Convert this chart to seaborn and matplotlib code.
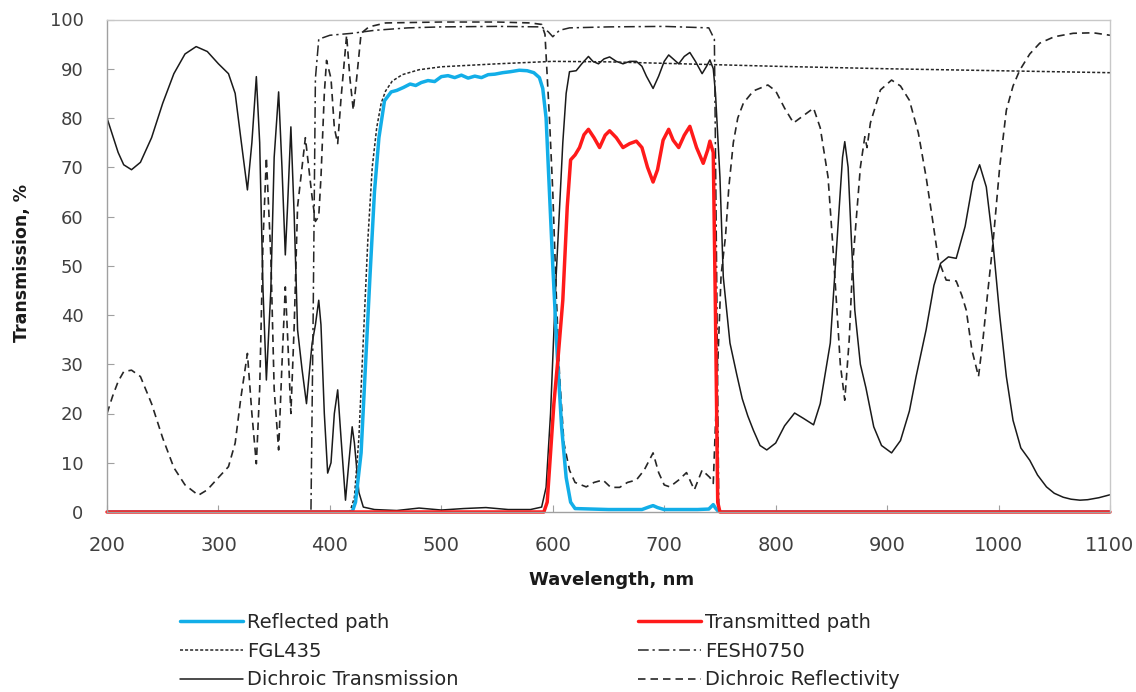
import matplotlib
matplotlib.use("Agg")
import matplotlib.pyplot as plt
import seaborn as sns

# Reflected path (blue)
ref_nm = [200, 420, 423, 428, 432, 436, 440, 444, 449, 455,
          460, 466, 472, 477, 482, 488, 494, 500, 506, 512,
          518, 524, 530, 536, 542, 548, 555, 562, 570, 577,
          583, 588, 591, 594, 597, 600, 604, 608, 612, 616,
          620, 650, 680, 686, 690, 694, 700, 730, 740, 744,
          746, 749, 1100]
ref_pct = [0, 0, 2, 12, 30, 48, 65, 76, 83.5, 85.3,
           85.6, 86.2, 86.9, 86.6, 87.2, 87.6, 87.4, 88.4, 88.6, 88.2,
           88.7, 88.1, 88.5, 88.2, 88.8, 88.9, 89.2, 89.4, 89.7, 89.6,
           89.2, 88.2, 86, 80, 65, 50, 32, 17, 7, 2,
           0.7, 0.5, 0.5, 1.0, 1.3, 0.9, 0.5, 0.5, 0.6, 1.5,
           0.8, 0, 0]

# Transmitted path (red)
trn_nm = [200, 592, 595, 598, 601, 605, 609, 613, 616, 620,
          624, 628, 632, 637, 642, 647, 651, 657, 663, 669,
          675, 680, 685, 690, 694, 699, 704, 708, 713, 718,
          723, 729, 735, 739, 741, 744, 746, 748, 750, 1100]
trn_pct = [0, 0, 2, 12, 22, 32, 43, 62, 71.5, 72.5,
           74, 76.6, 77.7, 76, 74, 76.5, 77.4, 76, 74, 74.8,
           75.3, 74, 70, 67, 69.5, 75.5, 77.7, 75.5, 74, 76.5,
           78.3, 74, 70.8, 73.5, 75.3, 73, 40, 2, 0, 0]

# FGL435 long-pass filter
fgl_nm = [200, 418, 422, 426, 430, 434, 438, 442, 446, 450,
          456, 465, 480, 500, 550, 600, 650, 700, 800, 900,
          1000, 1100]
fgl_pct = [0, 0, 3, 15, 35, 55, 70, 78, 83, 85.5,
           87.5, 88.8, 89.8, 90.4, 91.0, 91.5, 91.4, 91.1, 90.5, 90.0,
           89.6, 89.2]

# FESH0750 short-pass filter
fesh_nm = [200, 383, 385, 387, 390, 400, 420, 440, 470, 500,
           550, 590, 596, 600, 606, 615, 650, 700, 740, 745,
           747, 749, 1100]
fesh_pct = [0, 0, 40, 88, 96, 96.8, 97.2, 97.8, 98.3, 98.5,
            98.6, 98.5, 97.5, 96.5, 97.8, 98.3, 98.5, 98.6, 98.3, 96,
            50, 0, 0]

# Dichroic transmission
dt_nm = [200, 205, 210, 215, 222, 230, 240, 250, 260, 270,
         280, 290, 300, 309, 315, 320, 326, 330, 334, 337,
         340, 343, 347, 350, 354, 357, 360, 362, 365, 368,
         371, 375, 379, 381, 384, 387, 390, 392, 395, 398,
         401, 404, 407, 410, 414, 417, 420, 422, 426, 430,
         440, 460, 480, 500, 520, 540, 560, 580, 590, 594,
         598, 603, 609, 612, 615, 621, 626, 632, 636, 641,
         646, 651, 657, 663, 669, 675, 680, 684, 690, 695,
         700, 704, 708, 713, 718, 723, 728, 734, 738, 741,
         744, 746, 750, 753, 759, 765, 770, 775, 780, 786,
         792, 800, 808, 817, 825, 834, 840, 849, 855, 860,
         862, 865, 868, 871, 876, 881, 888, 895, 904, 912,
         920, 926, 935, 942, 948, 955, 962, 970, 977, 983,
         989, 995, 1001, 1007, 1013, 1020, 1028, 1035, 1043, 1050,
         1058, 1065, 1073, 1080, 1090, 1100]
dt_pct = [80, 76.5, 73, 70.5, 69.5, 71, 76, 83, 89, 93,
          94.5, 93.5, 91, 89, 85, 76, 65.4, 75, 88.4, 75,
          45, 26.8, 45, 72, 85.3, 70, 52.2, 62, 78.2, 60,
          37, 29, 22, 27, 34.2, 38, 43, 38, 20, 7.9,
          10, 20, 24.8, 15, 2.4, 10, 17.3, 14, 4, 1,
          0.5, 0.3, 0.8, 0.4, 0.7, 0.9, 0.5, 0.5, 1, 5,
          20, 47.8, 75, 85, 89.4, 89.6, 91, 92.5, 91.5, 91,
          92, 92.4, 91.5, 91, 91.5, 91.5, 90.5, 88.5, 86, 88.5,
          91.5, 92.8, 92, 91, 92.5, 93.3, 91.5, 89, 90.5, 91.8,
          90, 85, 68, 47.7, 34.3, 28, 23, 19.5, 16.6, 13.5,
          12.6, 14, 17.5, 20.1, 19, 17.7, 22, 34.3, 55, 72,
          75.2, 70, 55, 41, 30, 25.2, 17.3, 13.5, 12, 14.5,
          20.5, 27.5, 37, 46, 50.5, 51.8, 51.5, 58, 67, 70.5,
          66, 54.6, 40, 27.5, 18.6, 13, 10.5, 7.5, 5.1, 3.8,
          3, 2.6, 2.4, 2.5, 2.9, 3.5]

# Dichroic reflectivity
dr_nm = [200, 205, 210, 215, 222, 230, 240, 250, 260, 270,
         282, 290, 300, 309, 315, 320, 326, 330, 334, 337,
         340, 343, 347, 350, 354, 357, 360, 362, 365, 368,
         371, 375, 378, 381, 384, 387, 390, 392, 395, 397,
         401, 404, 407, 410, 415, 418, 421, 424, 428, 435,
         450, 500, 550, 580, 590, 593, 597, 600, 603, 606,
         610, 615, 620, 630, 637, 645, 652, 660, 667, 675,
         682, 690, 695, 700, 705, 713, 720, 727, 734, 741,
         744, 748, 751, 755, 758, 762, 766, 771, 780, 793,
         800, 808, 816, 825, 834, 840, 847, 851, 855, 858,
         862, 866, 869, 873, 876, 880, 882, 885, 894, 904,
         912, 920, 928, 935, 941, 946, 953, 962, 967, 971,
         976, 982, 986, 990, 995, 1001, 1007, 1013, 1019, 1028,
         1037, 1050, 1067, 1085, 1100]
dr_pct = [20, 23.5, 26.5, 28.5, 28.8, 27.5, 22, 15, 9, 5.5,
          3.4, 4.5, 7, 9.2, 14, 23, 32.2, 20, 9.8, 25,
          55, 72, 52, 25, 12.6, 30, 45.7, 36, 20, 38,
          62, 70, 76, 70, 64, 59, 60, 68, 85, 91.7,
          88, 78, 74.8, 84, 96.8, 88, 81.6, 88, 97.2, 98.5,
          99.3, 99.5, 99.5, 99.3, 99, 97, 80, 65, 45, 28,
          14, 8.5, 6, 5.1, 6, 6.5, 5, 5, 6, 6.5,
          8.5, 12, 8, 5.5, 5.1, 6.5, 8, 4.5, 8.5, 7,
          5.8, 30, 48, 56, 66, 75, 80, 83, 85.5, 86.7,
          85.5, 82, 79, 80.5, 82, 78, 68, 55, 41, 30,
          22.7, 35, 50, 61.3, 70, 76.2, 74, 79, 85.7, 87.7,
          86.5, 83.6, 77, 68, 59, 51.2, 47.1, 46.9, 44, 41,
          33, 27.5, 35, 44, 54.6, 70, 81.6, 86.5, 89.7, 93,
          95.2, 96.5, 97.2, 97.3, 96.8]

x_ticks = list(range(200, 1101, 100))
y_ticks = list(range(0, 101, 10))

sns.set_theme(style="white")
plt.rcParams['font.family'] = ['DejaVu Sans']

W, H = 1136, 692
fig = plt.figure(figsize=(W / 100, H / 100), dpi=100)
fig.patch.set_facecolor('white')

# plot area in pixels: x 107..1110, y 19.5..512
left, right, top, bottom = 107, 1110, 19.5, 512
ax = fig.add_axes([left / W, 1 - bottom / H, (right - left) / W, (bottom - top) / H])

def draw(x, y, color, lw, dashes=None, clip=True):
    sns.lineplot(x=x, y=y, ax=ax, color=color, linewidth=lw,
                 sort=False, estimator=None)
    line = ax.lines[-1]
    if dashes is not None:
        line.set_dashes(dashes)
    line.set_clip_on(clip)
    return line

ln_dr = draw(dr_nm, dr_pct, '#262626', 1.2, dashes=(4.5, 3))
ln_dt = draw(dt_nm, dt_pct, '#1a1a1a', 1.1)
ln_fesh = draw(fesh_nm, fesh_pct, '#262626', 1.1, dashes=(7, 2.5, 1.5, 2.5))
ln_fgl = draw(fgl_nm, fgl_pct, '#262626', 1.1, dashes=(2, 1.3))
ln_ref = draw(ref_nm, ref_pct, '#12aee8', 2.5)
ln_trn = draw(trn_nm, trn_pct, '#ff1a1a', 2.5, clip=False)

ax.set_xlim(200, 1100)
ax.set_ylim(0, 100)
ax.set_xticks(x_ticks)
ax.set_yticks(y_ticks)
ax.set_xlabel('')
ax.set_ylabel('')
ax.grid(False)

for side in ['left', 'bottom']:
    ax.spines[side].set_color('#a0a0a0')
    ax.spines[side].set_linewidth(1.0)
for side in ['top', 'right']:
    ax.spines[side].set_color('#c8c8c8')
    ax.spines[side].set_linewidth(1.0)

ax.tick_params(axis='both', direction='in', length=5, width=0.8,
               color='#a0a0a0', labelcolor='#404040')
ax.tick_params(axis='x', labelsize=14, pad=17, bottom=True, top=False)
ax.tick_params(axis='y', labelsize=13, pad=17, left=True, right=False)

# axis titles
fig.text(612 / W, 1 - 580 / H, 'Wavelength, nm', ha='center', va='center',
         fontsize=13, fontweight='bold', color='#1a1a1a')
fig.text(22 / W, 1 - 263 / H, 'Transmission, %', ha='center', va='center',
         rotation=90, fontsize=12.5, fontweight='bold', color='#1a1a1a')

# legend below the chart, two columns placed by hand
leg_kw = dict(loc='upper left', frameon=False, fontsize=14, borderpad=0,
              borderaxespad=0, handlelength=3.25, handletextpad=0.2,
              labelspacing=0.5, bbox_transform=fig.transFigure)
leg_y = 1 - 613 / H
fig.legend([ln_ref, ln_fgl, ln_dt],
           ['Reflected path', 'FGL435', 'Dichroic Transmission'],
           bbox_to_anchor=(180 / W, leg_y), **leg_kw)
fig.legend([ln_trn, ln_fesh, ln_dr],
           ['Transmitted path', 'FESH0750', 'Dichroic Reflectivity'],
           bbox_to_anchor=(638 / W, leg_y), **leg_kw)

fig.savefig('out.png', dpi=100, facecolor='white')
plt.close(fig)
